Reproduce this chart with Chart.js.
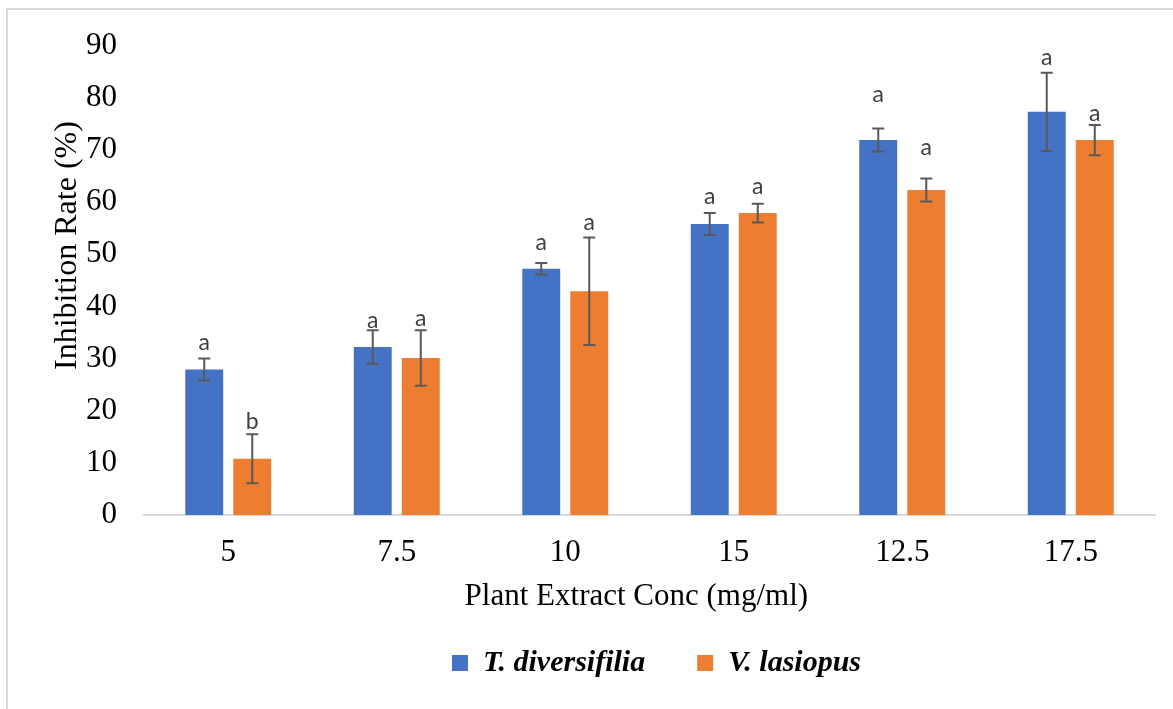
<!DOCTYPE html>
<html>
<head>
<meta charset="utf-8">
<title>Inhibition Rate by Plant Extract Concentration</title>
<script src="https://cdn.jsdelivr.net/npm/chart.js@4.4.0/dist/chart.umd.min.js"></script>
<style>
  html, body { margin: 0; padding: 0; background: #ffffff; }
  #wrap { position: relative; width: 1173px; height: 709px; overflow: hidden; }
  #frame { position: absolute; left: 6px; top: 8px; right: -10px; bottom: -10px;
           border-left: 2px solid #d9d9d9; border-top: 2px solid #d9d9d9; pointer-events: none; }
  canvas { position: absolute; left: 0; top: 0; }
</style>
</head>
<body>
<div id="wrap">
  <canvas id="chart" width="1173" height="709"></canvas>
  <div id="frame"></div>
</div>
<script>
// Extract concentrations (mg/ml), in the order they are plotted
const concentrations = ['5', '7.5', '10', '15', '12.5', '17.5'];
const seriesNames = ['T. diversifilia', 'V. lasiopus'];

// Mean inhibition rate (%) and error (±) per concentration
const diversifiliaMean = [27.9, 32.2, 47.2, 55.8, 71.9, 77.3];
const diversifiliaErr  = [2.1, 3.2, 1.1, 2.1, 2.2, 7.5];
const lasiopusMean     = [10.8, 30.1, 42.9, 57.9, 62.3, 71.9];
const lasiopusErr      = [4.7, 5.3, 10.3, 1.8, 2.2, 2.9];

// Significance group letters and the height (in %) where each one sits
const diversifiliaGroups  = ['a', 'a', 'a', 'a', 'a', 'a'];
const lasiopusGroups      = ['b', 'a', 'a', 'a', 'a', 'a'];
const diversifiliaGroupAt = [31.6, 35.9, 50.9, 59.6, 79.2, 86.2];
const lasiopusGroupAt     = [16.4, 36.3, 54.6, 61.6, 69.0, 75.6];

const yTicks = [0, 10, 20, 30, 40, 50, 60, 70, 80, 90];

const xTitle = 'Plant Extract Conc (mg/ml)';
const yTitle = 'Inhibition Rate (%)';

const errors = [diversifiliaErr, lasiopusErr];
const groups = [diversifiliaGroups, lasiopusGroups];
const groupAt = [diversifiliaGroupAt, lasiopusGroupAt];

const SERIF = "'Liberation Serif', 'Times New Roman', serif";
Chart.defaults.font.family = SERIF;
Chart.defaults.color = '#000000';

// Error bars with caps, plus the group letters above them
const errorBarsAndLetters = {
  id: 'errorBarsAndLetters',
  afterDatasetsDraw(chart) {
    const ctx = chart.ctx;
    const y = chart.scales.y;
    ctx.save();
    chart.data.datasets.forEach((ds, i) => {
      const meta = chart.getDatasetMeta(i);
      meta.data.forEach((bar, j) => {
        const v = ds.data[j];
        const e = errors[i][j];
        const top = y.getPixelForValue(v + e);
        const bot = y.getPixelForValue(v - e);
        const cap = 6;
        ctx.strokeStyle = '#595959';
        ctx.lineWidth = 2;
        ctx.beginPath();
        ctx.moveTo(bar.x, top); ctx.lineTo(bar.x, bot);
        ctx.moveTo(bar.x - cap, top); ctx.lineTo(bar.x + cap, top);
        ctx.moveTo(bar.x - cap, bot); ctx.lineTo(bar.x + cap, bot);
        ctx.stroke();

        ctx.fillStyle = '#404040';
        ctx.font = "23px Lato, 'Open Sans', sans-serif";
        ctx.textAlign = 'center';
        ctx.textBaseline = 'alphabetic';
        ctx.fillText(groups[i][j], bar.x, y.getPixelForValue(groupAt[i][j]));
      });
    });
    ctx.restore();
  }
};

// Axis captions
const axisCaptions = {
  id: 'axisCaptions',
  afterDraw(chart) {
    const ctx = chart.ctx;
    const ca = chart.chartArea;
    ctx.save();
    ctx.fillStyle = '#000000';
    ctx.textAlign = 'center';
    ctx.textBaseline = 'middle';
    ctx.font = '31px ' + SERIF;
    ctx.fillText(xTitle, ca.left + ca.width * 0.487, ca.bottom + 82);
    ctx.font = '32px ' + SERIF;
    ctx.translate(68, ca.top + ca.height * 0.426);
    ctx.rotate(-Math.PI / 2);
    ctx.fillText(yTitle, 0, 0);
    ctx.restore();
  }
};

// Centre the legend under the plot area
const legendPlacement = {
  id: 'legendPlacement',
  afterLayout(chart) {
    const lg = chart.legend;
    const ca = chart.chartArea;
    if (!lg) return;
    const dx = (ca.left + ca.right) / 2 + 7 - (lg.left + lg.right) / 2;
    lg.left += dx; lg.right += dx;
    const dy = (ca.bottom + 81) - lg.top;
    lg.top += dy; lg.bottom += dy;
  }
};

new Chart(document.getElementById('chart'), {
  type: 'bar',
  data: {
    labels: concentrations,
    datasets: [
      { label: seriesNames[0], data: diversifiliaMean, backgroundColor: '#4472C4' },
      { label: seriesNames[1], data: lasiopusMean, backgroundColor: '#ED7D31' }
    ]
  },
  options: {
    responsive: false,
    animation: false,
    events: [],
    categoryPercentage: 0.57,
    barPercentage: 0.79,
    layout: { padding: { top: 38, right: 18, bottom: 0, left: 0 } },
    scales: {
      x: {
        grid: { display: false, drawTicks: false },
        border: { display: true, color: '#d9d9d9', width: 2 },
        ticks: { font: { size: 31 }, color: '#000000', padding: 19 },
        afterFit(s) { s.height = 102; }
      },
      y: {
        min: 0,
        max: 90,
        grid: { display: false, drawTicks: false },
        border: { display: false },
        afterBuildTicks(s) { s.ticks = yTicks.map(v => ({ value: v })); },
        ticks: { font: { size: 31 }, color: '#000000', padding: 27 },
        afterFit(s) { s.width = 144; }
      }
    },
    plugins: {
      legend: {
        position: 'bottom',
        labels: {
          boxWidth: 16,
          boxHeight: 16,
          padding: 52,
          color: '#000000',
          font: { family: SERIF, size: 30, style: 'italic', weight: 'bold' }
        }
      },
      tooltip: { enabled: false }
    }
  },
  plugins: [errorBarsAndLetters, axisCaptions, legendPlacement]
});
</script>
</body>
</html>
